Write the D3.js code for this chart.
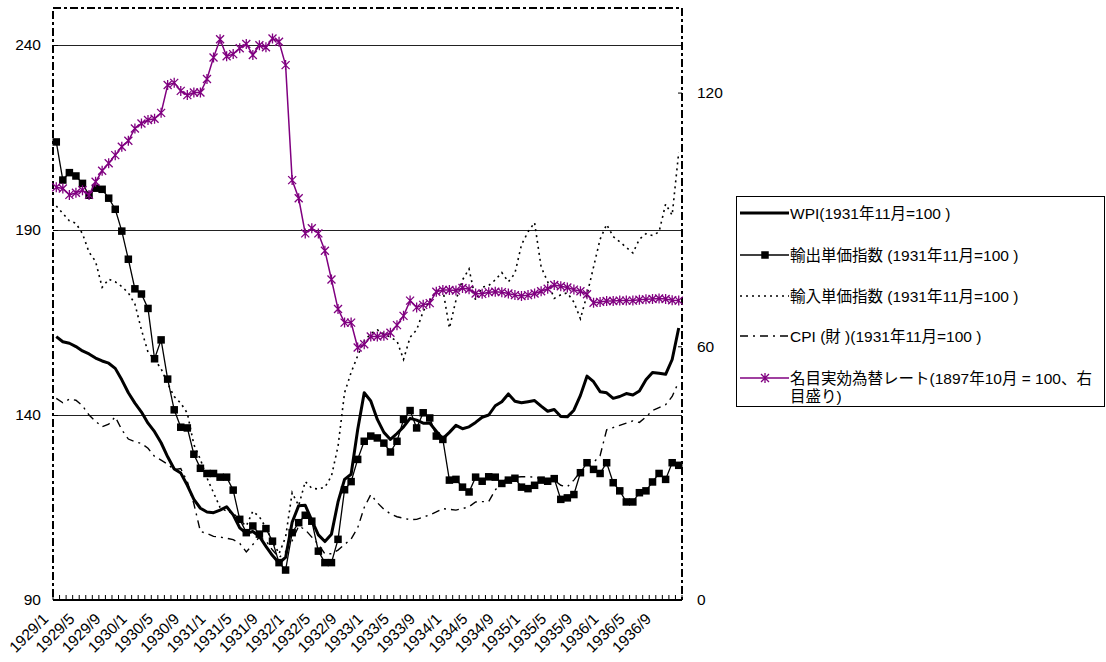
<!DOCTYPE html>
<html>
<head>
<meta charset="utf-8">
<script src="https://cdn.jsdelivr.net/npm/d3@7"></script>
<style>
  body { margin: 0; background: #fff; }
  text { font-family: "Liberation Sans", Arial, "Noto Sans CJK JP", sans-serif; fill: #000; }
</style>
</head>
<body>
<svg id="chart" width="1106" height="662"></svg>
<script>
// Monthly categories, 1929/1 - 1936/12
const years = [1929, 1930, 1931, 1932, 1933, 1934, 1935, 1936];
const months = [];
years.forEach(y => { for (let m = 1; m <= 12; m++) months.push(y + "/" + m); });

const tickLabels = ["1929/1","1929/5","1929/9","1930/1","1930/5","1930/9","1931/1","1931/5","1931/9",
  "1932/1","1932/5","1932/9","1933/1","1933/5","1933/9","1934/1","1934/5","1934/9",
  "1935/1","1935/5","1935/9","1936/1","1936/5","1936/9"];
const leftTicks = [90, 140, 190, 240];
const rightTicks = [0, 60, 120];

// WPI (1931/11 = 100)
const wpi = [161.2,159.8,159.4,158.5,157.3,156.5,155.4,154.6,154,152.6,
  149.5,146,143.2,140.8,137.8,135.5,132.5,128.7,125.4,124.3,
  121,117.2,114.8,113.8,113.6,114.3,115.2,113,109.5,108,
  108.5,107.2,104.5,102,100,101.5,111,115.5,115.6,111.5,
  107.6,105.8,107.8,116.5,122.6,124,136,146,143.8,138.8,
  135.3,133.4,135,136.8,139.1,138.6,137.8,137.8,135.6,133.6,
  135.3,137.2,136.3,136.8,138,139.4,140,142.5,143.6,145.7,
  143.7,143.3,143.6,143.9,142.4,141,141.5,139.6,139.5,141.3,
  145.3,150.5,149,146.3,146,144.5,145,145.8,145.4,146.5,
  149.5,151.5,151.3,151,155,163.5];

// Export unit value index (1931/11 = 100)
const exportIdx = [213.8,203.5,205.5,204.6,202.6,199.4,201.3,201,198.6,195.6,
  189.7,182.1,174.1,172.7,168.8,155.2,160.3,149.7,141.4,136.7,
  136.5,129.4,125.6,124.2,124.2,123.2,123.2,119.7,111.8,108.2,
  110,107.8,109.3,105.9,100.1,98.1,108.2,110.9,112.9,111.3,
  103.2,100.1,100.1,106.4,119.8,122,128,132.9,134.3,133.8,
  132.4,130,132.9,138.8,141.2,136.5,140.6,139.2,134.3,133.4,
  122.4,122.6,120.5,119.2,123.2,122.1,123.3,123.2,121.5,122.4,
  122.9,120.5,120.1,121,122.4,122.1,122.8,117.2,117.6,118.5,
  124.4,127.1,125.3,124.2,127.1,121.7,119.5,116.5,116.5,119,
  119.5,121.9,124.2,122.6,127.1,126.4];

// Import unit value index (1931/11 = 100)
const importIdx = [196.5,194.5,192.5,191.8,189,184,181.5,174.5,176.7,176,
  174.7,173,170,163,157,155,152.5,148.5,145,143.2,
  140.5,132,128,123,119,115,114,113.5,111.5,110,
  114,112.5,109.5,106,102.5,107,119,115.5,122,120.2,
  120,120.5,123.5,131.5,146,151.5,156,160,162,163,
  162,161,160,155,161,163,168,171,173.5,174,
  163.5,171,176.5,179.5,171,174.5,175,176.5,178.5,176,
  178.3,186,189.5,192,180,176,171.5,172.5,173,170.5,
  166,172.5,180,187.5,191.5,188.2,186.8,185.3,183.8,187.5,
  189,188.5,189.5,197,194,211];

// CPI, goods (1931/11 = 100)
const cpi = [144.5,143.3,144.3,144,142.5,140,138.3,136.8,137.5,139.5,
  136,133.5,132.8,132.3,131,128.8,127.8,126.7,125.2,125.5,
  122,116,108.5,108,107.2,107,106.7,106.3,105.3,103,
  105,107,106,103.5,101.5,103,106,110,109,107,
  105,102.5,102.5,103.5,105,106.5,109.5,115,118.5,116.3,
  114.5,113.3,112.5,112.1,111.7,111.8,112.4,113,113.8,114.7,
  114.5,114.3,114.7,115.2,116.5,116.6,116.6,119.7,122,122.8,
  123.2,123.3,123.3,123.2,122.8,122.4,122.4,121,120.6,122.4,
  124.7,127.4,127.2,129,136,136.6,137.2,137.8,138.4,138,
  139.5,141.2,142,142.8,145,149];

// Nominal effective exchange rate (1897/10 = 100, right axis)
const neer = [97.6,97.3,95.8,96.3,96.9,95.8,98.9,101.5,103.3,105.2,
  107.2,108.6,111.5,112.7,113.5,113.8,115.2,121.8,122.3,120.4,
  119.4,120,120,123.2,128.3,132.6,128.6,129.1,130.5,131.5,
  128.9,131.2,130.7,132.8,132,126.5,99.3,95,86.7,87.9,
  86.7,82.6,75.8,68.8,65.6,65.6,59.7,60.5,62.3,62.3,
  62.5,63.2,65,67.2,70.8,69.2,69.8,70.2,72.9,73.3,
  73.3,73.2,73.8,73.5,72.5,72.4,72.8,72.9,72.8,72.5,
  72.1,71.9,72.1,72.5,73,73.6,74.5,74.2,73.9,73.4,
  73,72.3,70.3,70.5,70.7,70.7,70.8,70.8,70.8,71,
  71.1,71.2,71.3,71.2,70.9,70.8];

const seriesNames = [
  "WPI(1931年11月=100 )",
  "輸出単価指数 (1931年11月=100 )",
  "輸入単価指数 (1931年11月=100 )",
  "CPI (財 )(1931年11月=100 )",
  ["名目実効為替レート(1897年10月 = 100、右", "目盛り)"]
];

const PURPLE = "#800080";
const svg = d3.select("#chart");
const plot = { left: 53, top: 8, right: 682, bottom: 600 };

const x = d3.scaleBand().domain(months).range([plot.left, plot.right]);
const cx = m => x(m) + x.bandwidth() / 2;
const yL = d3.scaleLinear().domain([90, 250]).range([plot.bottom, plot.top]);
const yR = d3.scaleLinear().domain([0, 140]).range([plot.bottom, plot.top]);

// Horizontal gridlines
svg.append("g").selectAll("line").data(leftTicks.filter(v => v > 90)).join("line")
  .attr("x1", plot.left).attr("x2", plot.right)
  .attr("y1", d => yL(d) + 0.5).attr("y2", d => yL(d) + 0.5)
  .attr("stroke", "#222").attr("stroke-width", 1)
  .attr("shape-rendering", "crispEdges");

// Plot frame (dash-dot)
svg.append("rect")
  .attr("x", plot.left).attr("y", plot.top)
  .attr("width", plot.right - plot.left).attr("height", plot.bottom - plot.top)
  .attr("fill", "none").attr("stroke", "#000").attr("stroke-width", 2)
  .attr("stroke-dasharray", "8,3,3,3");

// Left axis
const axL = svg.append("g").attr("transform", `translate(${plot.left},0)`)
  .call(d3.axisLeft(yL).tickValues(leftTicks).tickSize(-5).tickPadding(12));
axL.select(".domain").remove();
axL.selectAll("text").attr("font-size", 15.5).style("font-family", '"Liberation Sans", Arial, sans-serif');
axL.selectAll("line").attr("stroke", "#000");

// Right axis
const axR = svg.append("g").attr("transform", `translate(${plot.right},0)`)
  .call(d3.axisRight(yR).tickValues(rightTicks).tickSize(-4).tickPadding(15));
axR.select(".domain").remove();
axR.selectAll("text").attr("font-size", 15.5).style("font-family", '"Liberation Sans", Arial, sans-serif');
axR.selectAll("line").attr("stroke", "#000");

// Bottom axis: solid line with a tick between each month
svg.append("line").attr("x1", plot.left).attr("x2", plot.right)
  .attr("y1", plot.bottom).attr("y2", plot.bottom)
  .attr("stroke", "#000").attr("stroke-width", 2);
const bounds = months.map(m => x(m)).concat([plot.right]);
svg.append("g").selectAll("line").data(bounds).join("line")
  .attr("x1", d => d).attr("x2", d => d)
  .attr("y1", plot.bottom).attr("y2", plot.bottom - 5)
  .attr("stroke", "#000").attr("stroke-width", 1);

svg.append("g").selectAll("text").data(tickLabels).join("text")
  .attr("transform", d => `translate(${cx(d) - 7},${plot.bottom + 20}) rotate(-45)`)
  .attr("text-anchor", "end")
  .attr("font-size", 15.5)
  .text(d => d);

// Lines
const lineL = d3.line().x((d, i) => cx(months[i])).y(d => yL(d));
const lineR = d3.line().x((d, i) => cx(months[i])).y(d => yR(d));

const g = svg.append("g");
g.append("path").datum(importIdx).attr("d", lineL)
  .attr("fill", "none").attr("stroke", "#000").attr("stroke-width", 1.6)
  .attr("stroke-dasharray", "2,4");
g.append("path").datum(cpi).attr("d", lineL)
  .attr("fill", "none").attr("stroke", "#000").attr("stroke-width", 1.4)
  .attr("stroke-dasharray", "8,5,2,5");
g.append("path").datum(wpi).attr("d", lineL)
  .attr("fill", "none").attr("stroke", "#000").attr("stroke-width", 3)
  .attr("stroke-linejoin", "round");
g.append("path").datum(exportIdx).attr("d", lineL)
  .attr("fill", "none").attr("stroke", "#000").attr("stroke-width", 1.3);
const SQ = 7.5;
g.append("g").selectAll("rect").data(exportIdx).join("rect")
  .attr("x", (d, i) => cx(months[i]) - SQ / 2).attr("y", d => yL(d) - SQ / 2)
  .attr("width", SQ).attr("height", SQ).attr("fill", "#000");

g.append("path").datum(neer).attr("d", lineR)
  .attr("fill", "none").attr("stroke", PURPLE).attr("stroke-width", 1.5);

function star(sel, px, py, r) {
  const p = `M${px - r},${py - r}L${px + r},${py + r}M${px - r},${py + r}L${px + r},${py - r}M${px},${py - r * 1.25}L${px},${py + r * 1.25}`;
  sel.append("path").attr("d", p).attr("stroke", PURPLE).attr("stroke-width", 1.3).attr("fill", "none");
}
const stars = g.append("g");
neer.forEach((d, i) => star(stars, cx(months[i]), yR(d), 4));

// Legend
const lg = svg.append("g");
lg.append("rect").attr("x", 736.5).attr("y", 196.5).attr("width", 368).attr("height", 210)
  .attr("fill", "#fff").attr("stroke", "#000").attr("stroke-width", 1);
const rowY = [213, 255, 296, 336, 378];
const lx1 = 740, lx2 = 789, lmid = 765;
lg.append("line").attr("x1", lx1).attr("x2", lx2).attr("y1", rowY[0]).attr("y2", rowY[0])
  .attr("stroke", "#000").attr("stroke-width", 3);
lg.append("line").attr("x1", lx1).attr("x2", lx2).attr("y1", rowY[1]).attr("y2", rowY[1])
  .attr("stroke", "#000").attr("stroke-width", 1.3);
lg.append("rect").attr("x", lmid - SQ / 2).attr("y", rowY[1] - SQ / 2).attr("width", SQ).attr("height", SQ).attr("fill", "#000");
lg.append("line").attr("x1", lx1).attr("x2", lx2).attr("y1", rowY[2]).attr("y2", rowY[2])
  .attr("stroke", "#000").attr("stroke-width", 1.6).attr("stroke-dasharray", "2,4");
lg.append("line").attr("x1", lx1).attr("x2", lx2).attr("y1", rowY[3]).attr("y2", rowY[3])
  .attr("stroke", "#000").attr("stroke-width", 1.4).attr("stroke-dasharray", "8,5,2,5");
lg.append("line").attr("x1", lx1).attr("x2", lx2).attr("y1", rowY[4]).attr("y2", rowY[4])
  .attr("stroke", PURPLE).attr("stroke-width", 1.5);
star(lg, lmid, rowY[4], 4);

seriesNames.forEach((name, i) => {
  const lines = Array.isArray(name) ? name : [name];
  lines.forEach((t, j) => {
    lg.append("text").attr("x", lx2 + 1).attr("y", rowY[i] + j * 18)
      .attr("dominant-baseline", "central").attr("font-size", 15.5).text(t);
  });
});
</script>
</body>
</html>
